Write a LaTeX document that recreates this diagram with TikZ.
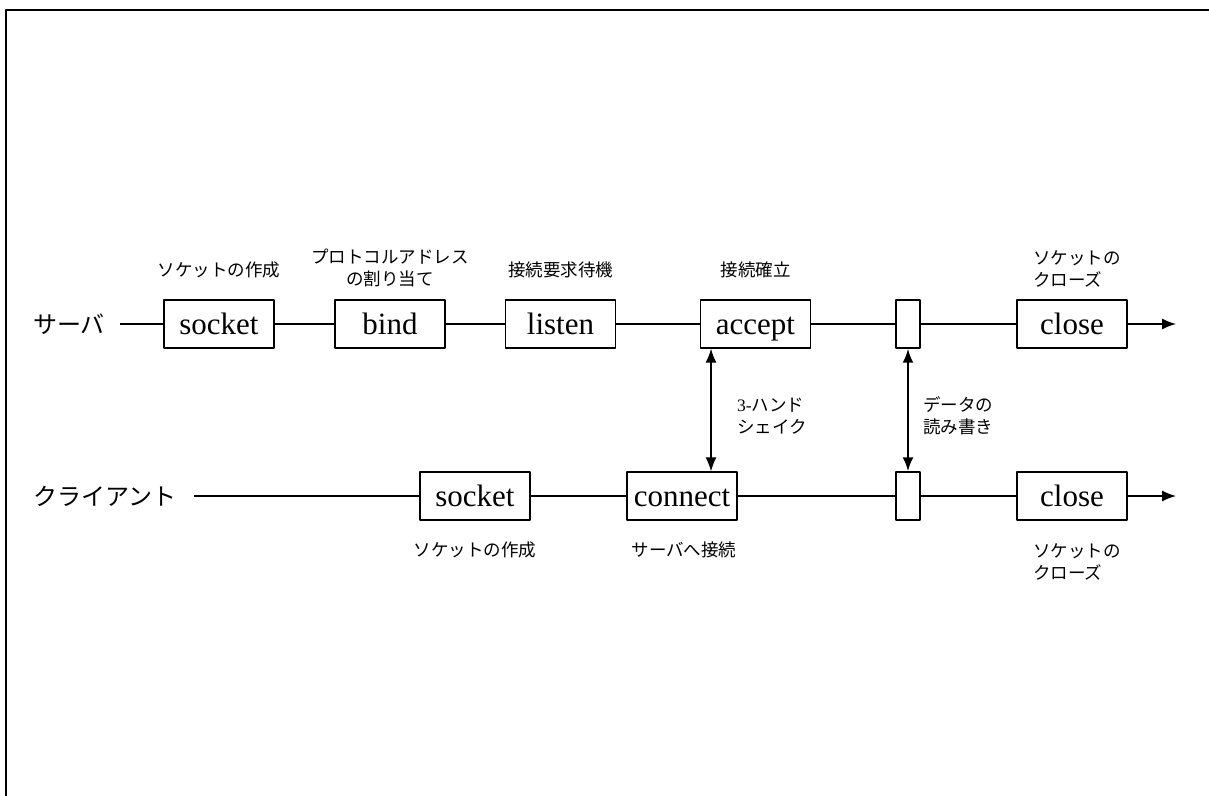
\documentclass[tikz,border=0pt]{standalone}
\usepackage{fontspec}
\setmainfont{Liberation Serif}
\newfontfamily\jpfont{Noto Sans CJK JP}
\usetikzlibrary{arrows.meta}
\tikzset{
  fn/.style={draw,line width=1.3pt,minimum width=110pt,minimum height=48pt,inner sep=0pt,
    text height=24pt,text depth=3pt,font=\fontsize{31}{31}\selectfont},
  rw/.style={draw,line width=1.3pt,minimum width=24pt,minimum height=48pt,inner sep=0pt},
  role/.style={font=\jpfont\fontsize{24}{24}\selectfont,inner sep=0pt},
  note/.style={font=\jpfont\fontsize{17.5}{22.5}\selectfont,inner sep=0pt},
  wire/.style={line width=1.4pt},
  tip/.style={-{Latex[length=14pt,width=11pt]}},
  both/.style={{Latex[length=14pt,width=11pt]}-{Latex[length=14pt,width=11pt]}}
}
\begin{document}
\begin{tikzpicture}[x=1pt,y=-1pt,line join=round]
  \useasboundingbox (0,0) rectangle (1209,795);
  \draw[line width=2.5pt] (6,796) -- (6,10) -- (1210,10);
  % server
  \node[role,anchor=west] (srv) at (33,324) {サーバ};
  \coordinate (srv0) at (120,324);
  \node[fn] (ssocket) at (219,324) {socket};
  \node[fn] (sbind) at (390,324) {bind};
  \node[fn] (slisten) at (560.5,324) {listen};
  \node[fn] (saccept) at (755.5,324) {accept};
  \node[rw] (srw) at (908,324) {};
  \node[fn] (sclose) at (1072,324) {close};
  \coordinate (send) at (1176,324);
  \draw[wire] (srv0) -- (ssocket) (ssocket) -- (sbind) (sbind) -- (slisten)
    (slisten) -- (saccept) (saccept) -- (srw) (srw) -- (sclose);
  \draw[wire,tip] (sclose) -- (send);
  % client
  \node[role,anchor=west] (cli) at (33,496) {クライアント};
  \coordinate (cli0) at (194,496);
  \node[fn] (csocket) at (475,496) {socket};
  \node[fn] (cconnect) at (682,496) {connect};
  \node[rw] (crw) at (908,496) {};
  \node[fn] (cclose) at (1072,496) {close};
  \coordinate (cend) at (1176,496);
  \draw[wire] (cli0) -- (csocket) (csocket) -- (cconnect) (cconnect) -- (crw)
    (crw) -- (cclose);
  \draw[wire,tip] (cclose) -- (cend);
  % handshake, data
  \draw[wire,both] (saccept.south west -| 711,0) -- (cconnect.north east -| 711,0);
  \draw[line width=2.4pt,both] (srw) -- (crw);
  % notes
  \node[note] (n1) at (219,270) {ソケットの作成};
  \node[note,align=center] (n2) at (390,268) {プロトコルアドレス\\の割り当て};
  \node[note] (n3) at (560.5,270) {接続要求待機};
  \node[note] (n4) at (755.5,270) {接続確立};
  \node[note,align=left,anchor=west] (n5) at (1033,269) {ソケットの\\クローズ};
  \node[note,align=left,anchor=west] (n6) at (737,416) {{\rmfamily 3-}ハンド\\シェイク};
  \node[note,align=left,anchor=west] (n7) at (923,416) {データの\\読み書き};
  \node[note] (n8) at (475,550) {ソケットの作成};
  \node[note] (n9) at (684,550) {サーバへ接続};
  \node[note,align=left,anchor=west] (n10) at (1033,562) {ソケットの\\クローズ};
\end{tikzpicture}
\end{document}
